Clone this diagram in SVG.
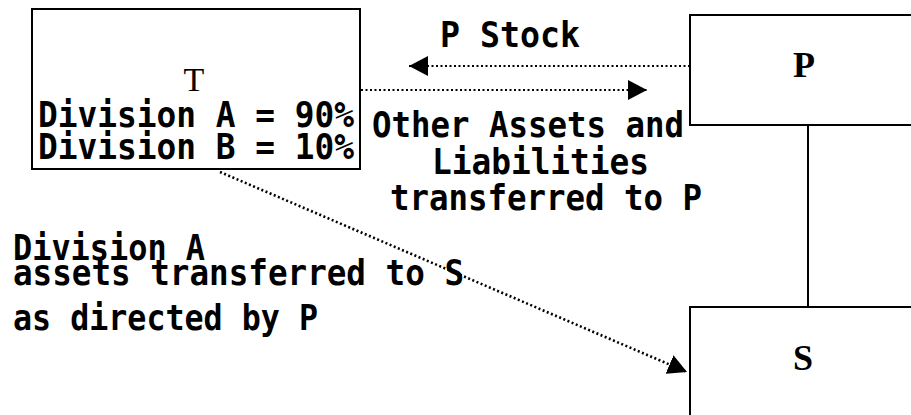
<svg xmlns="http://www.w3.org/2000/svg" width="911" height="415" viewBox="0 0 911 415">
<style>
.box{fill:#fff;stroke:#000;stroke-width:2}
.mono{font-family:"DejaVu Sans Mono","Liberation Mono",monospace;font-weight:bold;font-size:35px;fill:#000}
.ser{font-family:"Liberation Serif","Times New Roman",serif;fill:#000}
.dot{fill:none;stroke:#000;stroke-width:2;stroke-dasharray:2 2.5}
.diag{stroke-width:2.6}
.solid{fill:none;stroke:#000;stroke-width:2}
</style>
<defs>
<marker id="ah" viewBox="0 0 19 20" refX="19" refY="10" markerWidth="19" markerHeight="20" markerUnits="userSpaceOnUse" orient="auto">
<path d="M0,0 L19,10 L0,20 Z" fill="#000"/>
</marker>
</defs>
<rect width="911" height="415" fill="#fff"/>
<g id="connectors">
<line class="solid" x1="808" y1="125" x2="808" y2="307"/>
<line class="dot" x1="690" y1="66" x2="409" y2="66" marker-end="url(#ah)"/>
<line class="dot" x1="361" y1="90" x2="647" y2="90" marker-end="url(#ah)"/>
<line class="dot diag" x1="220" y1="172" x2="687" y2="372" marker-end="url(#ah)"/>
</g>
<g id="T">
<rect class="box" x="32" y="9" width="328" height="160"/>
<text class="ser" x="194" y="91" font-size="34" text-anchor="middle">T</text>
<text class="mono" x="38" y="127" textLength="316" lengthAdjust="spacingAndGlyphs">Division A = 90%</text>
<text class="mono" x="38" y="159" textLength="316" lengthAdjust="spacingAndGlyphs">Division B = 10%</text>
</g>
<g id="P">
<rect class="box" x="690" y="15" width="260" height="110"/>
<text class="ser" x="804" y="77" font-size="36" font-weight="bold" text-anchor="middle">P</text>
</g>
<g id="S">
<rect class="box" x="690" y="307" width="260" height="130"/>
<text class="ser" x="803" y="370" font-size="36" font-weight="bold" text-anchor="middle">S</text>
</g>
<g id="labels">
<text class="mono" x="440" y="47" textLength="140" lengthAdjust="spacingAndGlyphs">P Stock</text>
<text class="mono" x="372" y="137" textLength="312" lengthAdjust="spacingAndGlyphs">Other Assets and</text>
<text class="mono" x="432" y="174" textLength="217" lengthAdjust="spacingAndGlyphs">Liabilities</text>
<text class="mono" x="390" y="210" textLength="312" lengthAdjust="spacingAndGlyphs">transferred to P</text>
<text class="mono" x="13" y="260" textLength="192" lengthAdjust="spacingAndGlyphs">Division A</text>
<text class="mono" x="13" y="285" textLength="451" lengthAdjust="spacingAndGlyphs">assets transferred to S</text>
<text class="mono" x="13" y="330" textLength="305" lengthAdjust="spacingAndGlyphs">as directed by P</text>
</g>
</svg>
